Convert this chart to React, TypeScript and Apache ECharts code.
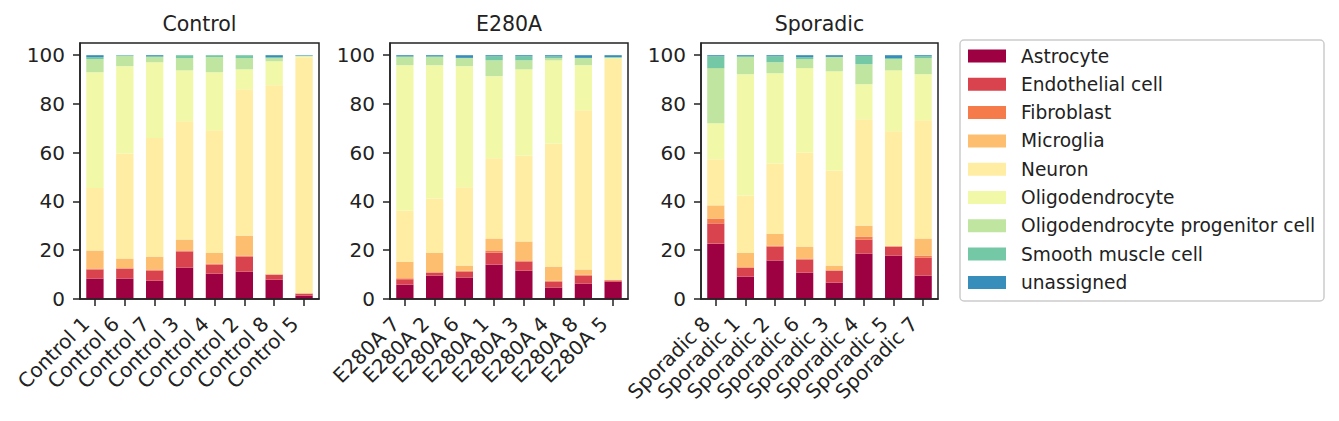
import { useEffect, useRef } from "react";
import * as echarts from "echarts";

const CELL_TYPES = [
  "Astrocyte",
  "Endothelial cell",
  "Fibroblast",
  "Microglia",
  "Neuron",
  "Oligodendrocyte",
  "Oligodendrocyte progenitor cell",
  "Smooth muscle cell",
  "unassigned",
];

const COLORS = [
  "#9e0142",
  "#d8434e",
  "#f67b4a",
  "#fdbf6f",
  "#feeda2",
  "#f1f9a9",
  "#bfe5a0",
  "#75c8a5",
  "#388eba",
];

const CONTROL_SAMPLES = ["Control 1", "Control 6", "Control 7", "Control 3", "Control 4", "Control 2", "Control 8", "Control 5"];
const E280A_SAMPLES = ["E280A 7", "E280A 2", "E280A 6", "E280A 1", "E280A 3", "E280A 4", "E280A 8", "E280A 5"];
const SPORADIC_SAMPLES = ["Sporadic 8", "Sporadic 1", "Sporadic 2", "Sporadic 6", "Sporadic 3", "Sporadic 4", "Sporadic 5", "Sporadic 7"];

// one row per sample, columns in CELL_TYPES order (percent)
const CONTROL_FRACTIONS = [
  [8.4, 3.7, 0.4, 7.4, 25.6, 47.5, 5.4, 0.8, 0.8],
  [8.4, 4.1, 0.1, 4.0, 43.1, 35.8, 4.1, 0.3, 0.1],
  [7.5, 4.1, 0.5, 5.3, 48.6, 31.1, 2.1, 0.4, 0.4],
  [12.9, 6.6, 0.4, 4.5, 48.5, 20.9, 5.0, 1.2, 0.0],
  [10.4, 3.7, 0.4, 4.5, 50.2, 23.8, 6.2, 0.8, 0.0],
  [11.2, 6.2, 0.4, 8.2, 60.0, 8.2, 4.6, 1.2, 0.0],
  [7.9, 2.1, 0.1, 0.1, 77.5, 9.8, 1.3, 0.4, 0.8],
  [1.4, 0.8, 0.1, 0.1, 96.8, 0.3, 0.2, 0.1, 0.2],
];

const E280A_FRACTIONS = [
  [5.9, 2.2, 0.4, 6.8, 21.0, 59.6, 3.3, 0.4, 0.4],
  [9.6, 1.2, 0.2, 8.0, 22.2, 54.7, 3.3, 0.4, 0.4],
  [8.8, 2.4, 0.4, 2.1, 32.1, 49.7, 3.3, 0.1, 1.1],
  [14.1, 4.9, 0.9, 4.9, 32.9, 33.7, 6.5, 1.7, 0.4],
  [11.6, 3.7, 0.5, 7.8, 35.3, 35.3, 3.7, 1.7, 0.4],
  [4.7, 2.4, 0.4, 5.8, 50.5, 34.1, 0.9, 0.7, 0.5],
  [6.3, 3.3, 0.4, 2.1, 65.3, 18.5, 2.9, 0.1, 1.1],
  [7.1, 0.4, 0.3, 0.1, 90.5, 0.4, 0.2, 0.2, 0.8],
];

const SPORADIC_FRACTIONS = [
  [22.7, 8.3, 2.0, 5.4, 18.9, 14.8, 22.6, 4.9, 0.4],
  [9.2, 3.7, 0.1, 6.0, 23.5, 49.7, 7.0, 0.4, 0.4],
  [15.8, 5.7, 0.4, 4.9, 28.8, 37.0, 4.5, 2.5, 0.4],
  [10.8, 5.4, 0.4, 4.9, 38.6, 34.6, 3.7, 0.8, 0.8],
  [6.7, 4.9, 0.2, 1.9, 39.0, 40.7, 5.8, 0.1, 0.7],
  [18.6, 5.8, 1.2, 4.5, 43.6, 14.4, 8.2, 3.4, 0.3],
  [17.8, 3.7, 0.1, 0.2, 47.0, 25.0, 4.6, 0.4, 1.2],
  [9.6, 7.4, 0.8, 7.0, 48.5, 18.9, 6.6, 0.8, 0.4],
];

const Y_TICKS = [0, 20, 40, 60, 80, 100];

const FONT = "DejaVu Sans";
const INK = "#222222";
const TOP = 43;
const HEIGHT = 256;

const PANELS = [
  { title: "Control", samples: CONTROL_SAMPLES, rows: CONTROL_FRACTIONS, left: 80, width: 239 },
  { title: "E280A", samples: E280A_SAMPLES, rows: E280A_FRACTIONS, left: 390, width: 238 },
  { title: "Sporadic", samples: SPORADIC_SAMPLES, rows: SPORADIC_FRACTIONS, left: 701, width: 237 },
];

export default function App() {
  const ref = useRef<HTMLDivElement>(null);

  useEffect(() => {
    document.body.style.margin = "0";
    if (!ref.current) return;
    const chart = echarts.init(ref.current, null, { renderer: "svg" });

    const series: any[] = [];
    PANELS.forEach((p, i) => {
      CELL_TYPES.forEach((name, k) => {
        series.push({
          type: "bar",
          name,
          xAxisIndex: i,
          yAxisIndex: i,
          stack: "panel" + i,
          barWidth: "58%",
          data: p.rows.map((r) => r[k]),
          itemStyle: { color: COLORS[k] },
          emphasis: { disabled: true },
        });
      });
    });

    const graphic: any[] = [];
    PANELS.forEach((p) => {
      graphic.push({
        type: "rect",
        z: 100,
        shape: { x: p.left, y: TOP, width: p.width, height: HEIGHT },
        style: { fill: "none", stroke: INK, lineWidth: 1.5 },
        silent: true,
      });
      graphic.push({
        type: "text",
        x: p.left + p.width / 2,
        y: 24,
        style: {
          text: p.title,
          fontSize: 20.5,
          fontFamily: FONT,
          fill: INK,
          align: "center",
          verticalAlign: "middle",
        },
      });
    });
    graphic.push({
      type: "rect",
      z: 100,
      shape: { x: 960, y: 40, width: 364, height: 261, r: 4 },
      style: { fill: "none", stroke: "#cccccc", lineWidth: 1.5 },
      silent: true,
    });

    chart.setOption({
      animation: false,
      backgroundColor: "#ffffff",
      grid: PANELS.map((p) => ({ left: p.left, top: TOP, width: p.width, height: HEIGHT })),
      xAxis: PANELS.map((p, i) => ({
        type: "category",
        gridIndex: i,
        data: p.samples,
        axisLine: { show: true, lineStyle: { color: INK, width: 1.5 } },
        axisTick: { show: true, alignWithLabel: true, length: 7, lineStyle: { color: INK, width: 1.5 } },
        axisLabel: {
          interval: 0,
          rotate: 45,
          margin: 12,
          padding: [0, 13, 0, 0],
          fontSize: 20,
          fontFamily: FONT,
          color: INK,
        },
        splitLine: { show: false },
      })),
      yAxis: PANELS.map((p, i) => ({
        type: "value",
        gridIndex: i,
        min: 0,
        max: 105,
        interval: 20,
        axisLine: { show: true, lineStyle: { color: INK, width: 1.5 } },
        axisTick: { show: true, length: 7, customValues: Y_TICKS, lineStyle: { color: INK, width: 1.5 } },
        axisLabel: {
          customValues: Y_TICKS,
          margin: 15,
          fontSize: 20,
          fontFamily: FONT,
          color: INK,
          formatter: (v: number) => (v % 20 === 0 && v <= 100 ? String(v) : ""),
        },
        splitLine: { show: false },
      })),
      legend: {
        orient: "vertical",
        left: 968,
        top: 46,
        padding: 0,
        itemWidth: 38,
        itemHeight: 13,
        itemGap: 8.3,
        icon: "rect",
        selectedMode: false,
        data: CELL_TYPES,
        textStyle: {
          fontSize: 18.6,
          lineHeight: 20,
          fontFamily: FONT,
          color: INK,
          padding: [0, 0, 0, 10],
        },
      },
      graphic,
      series,
    });

    return () => chart.dispose();
  }, []);

  return <div ref={ref} style={{ width: 1339, height: 421 }} />;
}
